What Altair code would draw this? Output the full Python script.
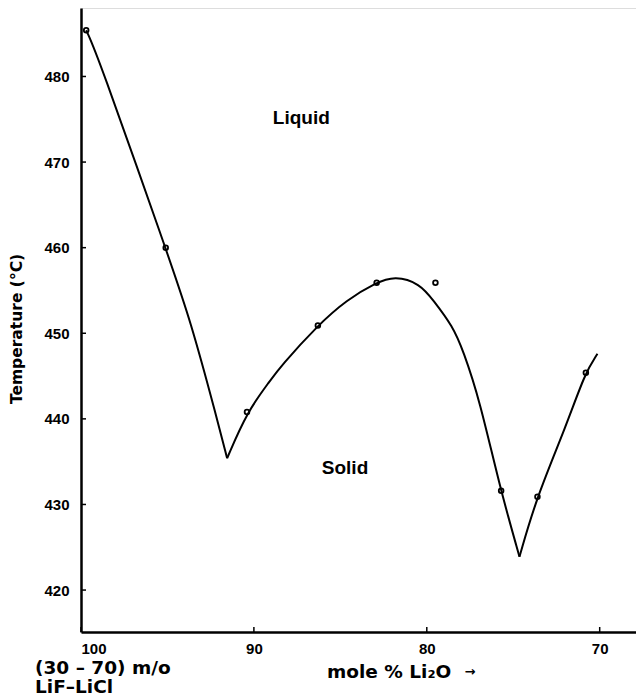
import altair as alt
import pandas as pd

# measured data points (mole % Li2O, temperature °C)
pt_x = [99.7, 95.1, 90.4, 86.3, 82.9, 79.5, 75.7, 73.6, 70.8]
pt_y = [485.4, 460.0, 440.8, 450.9, 455.9, 455.9, 431.6, 430.9, 445.4]

# liquidus curve, three branches
seg_a_x = [99.7, 99.04, 95.1, 93.66, 92.12, 91.55]
seg_a_y = [485.4, 482.5, 459.9, 451.5, 439.9, 435.4]
seg_b_x = [91.55, 90.4, 89.05, 88.47, 86.32, 84.63, 82.94, 81.84, 80.4, 79.64, 78.49, 77.9, 76.94, 75.79, 74.64]
seg_b_y = [435.4, 440.8, 444.5, 446.1, 450.9, 453.9, 455.9, 456.7, 455.8, 453.9, 450.8, 448.0, 442.2, 432.1, 423.9]
seg_c_x = [74.64, 73.64, 71.95, 70.84, 70.13]
seg_c_y = [423.9, 430.9, 439.1, 445.4, 447.6]

x_ticks = [100, 90, 80, 70]
y_ticks = [420, 430, 440, 450, 460, 470, 480]
x_domain = [67.9, 100]
y_domain = [415.1, 488]

rows = []
for name, xs_, ys_ in [("a", seg_a_x, seg_a_y), ("b", seg_b_x, seg_b_y), ("c", seg_c_x, seg_c_y)]:
    for i, (xv, yv) in enumerate(zip(xs_, ys_)):
        rows.append({"seg": name, "i": i, "x": xv, "y": yv})
curve_df = pd.DataFrame(rows)
pts_df = pd.DataFrame({"x": pt_x, "y": pt_y})
xt_df = pd.DataFrame({"x": x_ticks})
yt_df = pd.DataFrame({"y": y_ticks})

FONT = "Liberation Sans"
FONT2 = "DejaVu Sans"

xs = alt.Scale(domain=x_domain, reverse=True, nice=False, zero=False)
ys = alt.Scale(domain=y_domain, nice=False, zero=False)

x_axis = alt.Axis(values=x_ticks, title=None, grid=False, domainWidth=2.5, domainColor="black",
                  ticks=False, labelFont=FONT, labelFontWeight="bold",
                  labelFontSize=15, labelColor="black", labelPadding=9, format="d")
y_axis = alt.Axis(values=y_ticks, title=None, grid=False, domainWidth=2.5, domainColor="black",
                  ticks=False, labelFont=FONT, labelFontWeight="bold",
                  labelFontSize=15, labelColor="black", labelPadding=12, format="d")

curve = alt.Chart(curve_df).mark_line(color="black", strokeWidth=2, interpolate="basis").encode(
    x=alt.X("x:Q", scale=xs, axis=x_axis),
    y=alt.Y("y:Q", scale=ys, axis=y_axis),
    detail="seg:N",
    order="i:Q",
)

xticks = alt.Chart(xt_df).mark_rule(color="black", strokeWidth=1.5).encode(
    x=alt.X("x:Q", scale=xs),
    y=alt.value(619),
    y2=alt.value(624),
)
yticks = alt.Chart(yt_df).mark_rule(color="black", strokeWidth=1.5).encode(
    y=alt.Y("y:Q", scale=ys),
    x=alt.value(0),
    x2=alt.value(5),
)

points = alt.Chart(pts_df).mark_point(shape="circle", filled=False, color="black", size=22, strokeWidth=1.8, opacity=1).encode(
    x=alt.X("x:Q", scale=xs),
    y=alt.Y("y:Q", scale=ys),
)

label_df = pd.DataFrame({"t": ["Liquid", "Solid"], "x": [87.26, 84.73], "y": [475.1, 434.25]})
labels = alt.Chart(label_df).mark_text(font=FONT, fontSize=19, fontWeight="bold", color="black").encode(
    x=alt.X("x:Q", scale=xs),
    y=alt.Y("y:Q", scale=ys),
    text="t:N",
)

def txt(s, x, y, size=15, angle=0, align="left", font=FONT2):
    return alt.Chart(pd.DataFrame({"t": [s]})).mark_text(
        font=font, fontSize=size, fontWeight="bold", color="black", align=align, baseline="middle", angle=angle
    ).encode(x=alt.value(x), y=alt.value(y), text="t:N")

ytitle = txt("Temperature (°C)", -64, 321, size=15.5, angle=270, align="center")
xtitle = txt("mole % Li₂O", 246, 664, size=18.5)
arrow = txt("→", 389, 664, size=13, align="center")
sub1 = txt("(30 – 70) m/o", -46, 660, size=18.5)
sub2 = txt("LiF–LiCl", -46, 679, size=18.5)

chart = alt.layer(curve, xticks, yticks, points, labels, ytitle, xtitle, arrow, sub1, sub2).properties(
    width=555, height=624,
    padding={"left": 81, "top": 8, "right": 0, "bottom": 65},
    autosize=alt.AutoSizeParams(type="none"),
).configure_view(stroke=None).configure(background="white")

chart.save("out.html", embed_options={"renderer": "svg", "actions": False})
